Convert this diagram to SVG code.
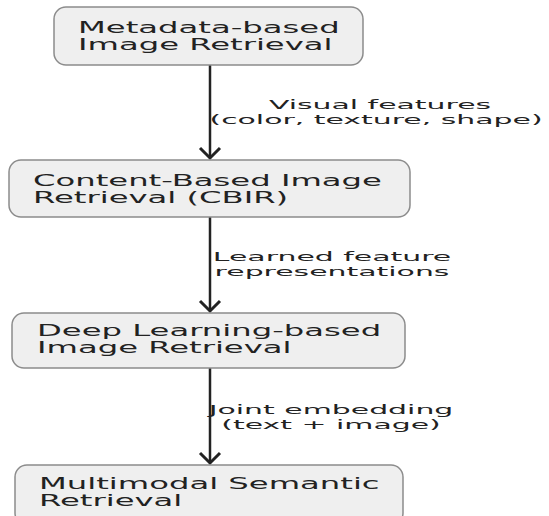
<svg xmlns="http://www.w3.org/2000/svg" width="549" height="516" viewBox="0 0 549 516">
<style>
.box{fill:#efefef;stroke:#8c8c8c;stroke-width:1.5}
.t{font-family:"DejaVu Sans",sans-serif;font-size:15px;fill:#222}
.l{font-family:"DejaVu Sans",sans-serif;font-size:13px;fill:#222;text-anchor:middle}
.edge{stroke:#222;stroke-width:2.5;fill:none}
.head{stroke:#222;stroke-width:3;fill:none;stroke-linejoin:miter}
</style>
<rect width="549" height="516" fill="#ffffff"/>
<g id="connectors">
<line class="edge" x1="210" y1="65" x2="210" y2="158"/>
<polyline class="head" points="200,148 210,158 220,148"/>
<line class="edge" x1="210" y1="217" x2="210" y2="311"/>
<polyline class="head" points="200,301 210,311 220,301"/>
<line class="edge" x1="210" y1="368" x2="210" y2="463"/>
<polyline class="head" points="200,453 210,463 220,453"/>
<text class="l" transform="translate(380,0) scale(2.3,1)" x="0" y="109">Visual features</text>
<text class="l" transform="translate(376,0) scale(2.3,1)" x="0" y="124">(color, texture, shape)</text>
<text class="l" transform="translate(332,0) scale(2.3,1)" x="0" y="261">Learned feature</text>
<text class="l" transform="translate(332,0) scale(2.3,1)" x="0" y="276">representations</text>
<text class="l" transform="translate(331,0) scale(2.3,1)" x="0" y="414">Joint embedding</text>
<text class="l" transform="translate(331,0) scale(2.3,1)" x="0" y="429">(text + image)</text>
</g>
<g id="node1">
<rect class="box" x="54" y="7" width="309" height="58" rx="12"/>
<text class="t" transform="translate(78,0) scale(2.15,1)" x="0" y="33">Metadata-based</text>
<text class="t" transform="translate(78,0) scale(2.15,1)" x="0" y="50">Image Retrieval</text>
</g>
<g id="node2">
<rect class="box" x="9" y="160" width="401" height="57" rx="12"/>
<text class="t" transform="translate(33,0) scale(2.15,1)" x="0" y="186">Content-Based Image</text>
<text class="t" transform="translate(33,0) scale(2.15,1)" x="0" y="203">Retrieval (CBIR)</text>
</g>
<g id="node3">
<rect class="box" x="12" y="313" width="393" height="55" rx="12"/>
<text class="t" transform="translate(37,0) scale(2.15,1)" x="0" y="336">Deep Learning-based</text>
<text class="t" transform="translate(37,0) scale(2.15,1)" x="0" y="353">Image Retrieval</text>
</g>
<g id="node4">
<rect class="box" x="15" y="465" width="388" height="60" rx="12"/>
<text class="t" transform="translate(39,0) scale(2.15,1)" x="0" y="489">Multimodal Semantic</text>
<text class="t" transform="translate(39,0) scale(2.15,1)" x="0" y="506">Retrieval</text>
</g>
</svg>
